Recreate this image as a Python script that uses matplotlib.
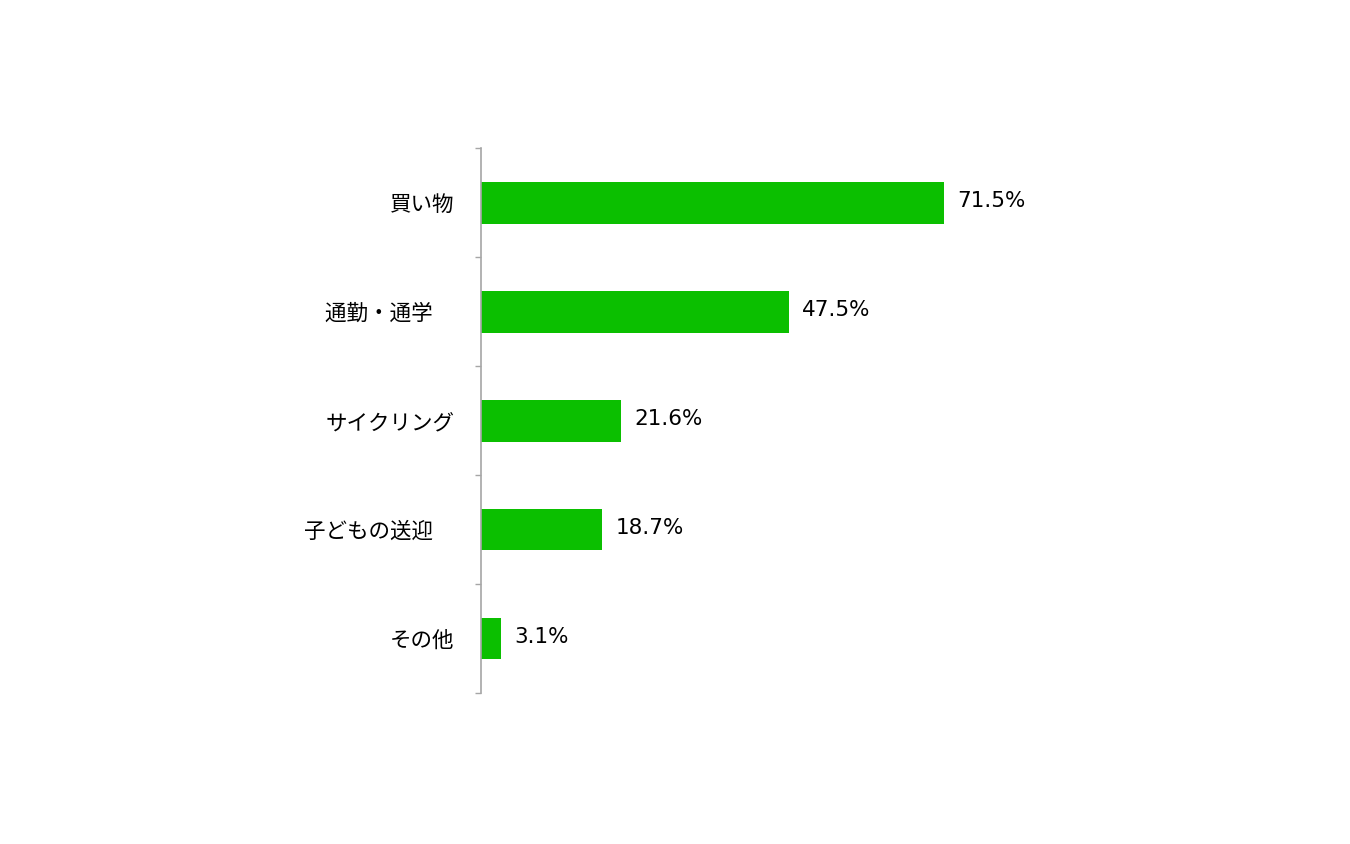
import numpy as np
import matplotlib
matplotlib.use("Agg")
import matplotlib.pyplot as plt

# ── data ──────────────────────────────────────────────────────────────────────
categories = ["買い物", "通勤・通学\u3000", "サイクリング", "子どもの送迎\u3000", "その他"]
values     = [71.5, 47.5, 21.6, 18.7, 3.1]

BAR_COLOR  = "#0bbf00"
AXIS_COLOR = "#a6a6a6"

fig = plt.figure(figsize=(13.5, 8.44), dpi=100)
fig.patch.set_facecolor("white")
ax = fig.add_axes([0.3563, 0.1789, 0.48, 0.6457])

y = np.arange(len(categories))
ax.barh(y, values, height=0.385, color=BAR_COLOR, zorder=2)

for yi, v in zip(y, values):
    ax.annotate(f"{v:.1f}%", xy=(v, yi - 0.01), xytext=(9.5, 0), textcoords="offset points",
                ha="left", va="center", fontsize=15.5, family="DejaVu Sans", color="black")

ax.set_xlim(0, 100)
ax.set_ylim(len(categories) - 0.5, -0.5)

# category boundaries as tick marks, labels at centres
ax.set_yticks(np.arange(-0.5, len(categories), 1.0))
ax.set_yticklabels([])
ax.set_yticks(y, minor=True)
ax.set_yticklabels(categories, minor=True, fontsize=15.5,
                   family=["Noto Sans CJK JP", "DejaVu Sans"])
ax.tick_params(axis="y", which="major", length=4, width=1, color=AXIS_COLOR, direction="out")
ax.tick_params(axis="y", which="minor", length=0, pad=19)
ax.set_xticks([])

for side in ["top", "right", "bottom"]:
    ax.spines[side].set_visible(False)
ax.spines["left"].set_color(AXIS_COLOR)
ax.spines["left"].set_linewidth(1.2)

fig.savefig("out.png", dpi=100)
